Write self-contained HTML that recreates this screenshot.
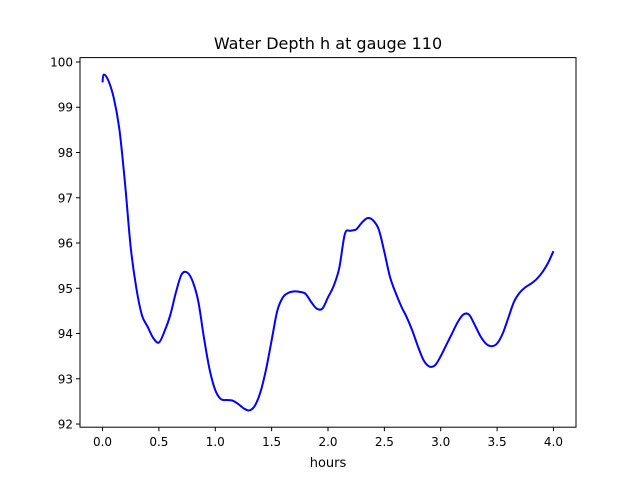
<!DOCTYPE html>
<html><head><meta charset="utf-8"><style>
body{margin:0;background:#fff;}
svg text{font-family:"DejaVu Sans","Liberation Sans",sans-serif;}
</style></head><body>
<svg id="chart" width="640" height="480" xmlns="http://www.w3.org/2000/svg">
<rect width="640" height="480" fill="#fff"/>
<text x="328" y="49" font-size="16" text-anchor="middle">Water Depth h at gauge 110</text>
<g id="xt"></g>
<g id="yt"></g>
<path id="line" fill="none" stroke="#0000ff" stroke-width="2"/>
<rect x="80" y="57.6" width="496" height="369.6" fill="none" stroke="#000" stroke-width="1"/>
<text x="328" y="467" font-size="13" text-anchor="middle">hours</text>
</svg>
<script>
const hours = [0,0.01,0.05,0.1,0.15,0.2,0.25,0.3,0.35,0.4,0.45,0.5,0.55,0.6,0.65,0.7,0.75,0.8,0.85,0.9,0.95,1.0,1.05,1.1,1.15,1.2,1.25,1.3,1.35,1.4,1.45,1.5,1.55,1.6,1.65,1.7,1.75,1.8,1.85,1.9,1.95,2.0,2.05,2.1,2.15,2.2,2.25,2.3,2.35,2.4,2.45,2.5,2.55,2.6,2.65,2.7,2.75,2.8,2.85,2.9,2.95,3.0,3.05,3.1,3.15,3.2,3.25,3.3,3.35,3.4,3.45,3.5,3.55,3.6,3.65,3.7,3.75,3.8,3.85,3.9,3.95,4.0];
const depth = [99.55,99.72,99.6,99.2,98.5,97.3,95.9,95.0,94.4,94.15,93.9,93.8,94.05,94.4,94.9,95.3,95.35,95.15,94.7,93.9,93.2,92.75,92.55,92.53,92.52,92.45,92.35,92.3,92.4,92.7,93.2,93.85,94.5,94.8,94.9,94.93,94.92,94.88,94.7,94.55,94.55,94.8,95.05,95.45,96.2,96.27,96.3,96.45,96.55,96.5,96.3,95.8,95.25,94.9,94.6,94.35,94.05,93.7,93.4,93.27,93.3,93.5,93.75,94.0,94.25,94.42,94.42,94.2,93.95,93.78,93.72,93.78,94.0,94.35,94.7,94.9,95.02,95.1,95.2,95.35,95.55,95.82];
const xTicks = [0,0.5,1.0,1.5,2.0,2.5,3.0,3.5,4.0];
const yTicks = [92,93,94,95,96,97,98,99,100];
const X0=80,X1=576,Y0=427.2,Y1=57.6;
const xmin=-0.2,xmax=4.2;
const ymin=91.93,ymax=100.097;
const sx=v=>X0+(v-xmin)/(xmax-xmin)*(X1-X0);
const sy=v=>Y0-(v-ymin)/(ymax-ymin)*(Y0-Y1);
const NS="http://www.w3.org/2000/svg";
const xt=document.getElementById('xt'), yt=document.getElementById('yt');
xTicks.forEach(t=>{
  const l=document.createElementNS(NS,'line');
  l.setAttribute('x1',sx(t));l.setAttribute('x2',sx(t));l.setAttribute('y1',Y0);l.setAttribute('y2',Y0+4);l.setAttribute('stroke','#000');
  
  
  xt.appendChild(l);
  const s=document.createElementNS(NS,'text');
  s.setAttribute('x',sx(t));s.setAttribute('y',Y0+19);s.setAttribute('font-size','12');s.setAttribute('text-anchor','middle');
  s.textContent=t.toFixed(1);
  
  
  xt.appendChild(s);
});
yTicks.forEach(t=>{
  const l=document.createElementNS(NS,'line');
  l.setAttribute('x1',X0-4);l.setAttribute('x2',X0);l.setAttribute('y1',sy(t));l.setAttribute('y2',sy(t));l.setAttribute('stroke','#000');
  
  
  yt.appendChild(l);
  const s=document.createElementNS(NS,'text');
  s.setAttribute('x',X0-7);s.setAttribute('y',sy(t)+4.5);s.setAttribute('font-size','12');s.setAttribute('text-anchor','end');
  s.textContent=t;
  
  
  yt.appendChild(s);
});
const P=hours.map((h,i)=>[sx(h),sy(depth[i])]);
let d='M'+P[0][0]+','+P[0][1];
for(let i=0;i<P.length-1;i++){
  const p0=P[i-1]||P[i],p1=P[i],p2=P[i+1],p3=P[i+2]||P[i+1];
  const c1=[p1[0]+(p2[0]-p0[0])/6,p1[1]+(p2[1]-p0[1])/6];
  const c2=[p2[0]-(p3[0]-p1[0])/6,p2[1]-(p3[1]-p1[1])/6];
  d+=` C${c1[0]},${c1[1]} ${c2[0]},${c2[1]} ${p2[0]},${p2[1]}`;
}
document.getElementById('line').setAttribute('d',d);
</script>
</body></html>
